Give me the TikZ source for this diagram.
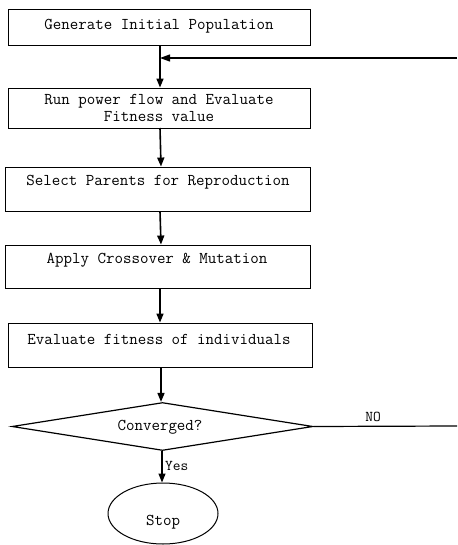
\documentclass[tikz,border=0pt]{standalone}
\usepackage{fontspec}
\usetikzlibrary{shapes.geometric,arrows.meta}
\begin{document}
\begin{tikzpicture}[x=1pt,y=-1pt,
  box/.style={draw,line width=0.9pt,rectangle,inner sep=0pt},
  txt/.style={font=\ttfamily\fontsize{16.5pt}{17pt}\selectfont,inner sep=0pt,align=center},
  small/.style={font=\ttfamily\fontsize{15pt}{16pt}\selectfont},
  flow/.style={line width=1.6pt,-{Triangle[length=9pt,width=7pt]}},
  thin/.style={line width=1.2pt}]
\useasboundingbox (0,0) rectangle (457,545);
% boxes
\node[box,minimum width=302pt,minimum height=36pt] (b1) at (159,27) {};
\node[box,minimum width=302pt,minimum height=40pt] (b2) at (159,108) {};
\node[box,minimum width=305pt,minimum height=44pt] (b3) at (157.5,189) {};
\node[box,minimum width=305pt,minimum height=43pt] (b4) at (157.5,266.5) {};
\node[box,minimum width=304pt,minimum height=44pt] (b5) at (160,345) {};
\node[draw,line width=1.2pt,diamond,minimum width=301pt,minimum height=48pt,inner sep=0pt] (d) at (162.5,426.5) {};
\node[draw,line width=1pt,ellipse,minimum width=110pt,minimum height=61pt,inner sep=0pt] (e) at (163,513.5) {};
% texts
\node[txt] (t1) at (159,26) {Generate Initial Population};
\node[txt] (t2) at (159,108) {Run power flow and Evaluate\\Fitness value};
\node[txt] (t3) at (158,182) {Select Parents for Reproduction};
\node[txt] (t4) at (157,260) {Apply Crossover \& Mutation};
\node[txt] (t5) at (159,339) {Evaluate fitness of individuals};
\node[txt] (t6) at (160,427) {Converged?};
\node[txt] (t7) at (163,522) {Stop};
\node[txt,small] (no) at (373,417) {NO};
\node[txt,small,anchor=west] (yes) at (165,466) {Yes};
% connectors
\coordinate (fbr) at (457,58);
\coordinate (fbj) at (160,58);
\coordinate (nor) at (457,426);
\draw[flow] (b1.south -| fbj) -- (b2.north -| fbj);
\draw[thin,-{Triangle[length=10pt,width=7pt]}] (fbr) -- (fbj);
\draw[flow] (160,128) -- (b3.north -| 161,0);
\draw[flow] (b3.south -| 160,0) -- (b4.north -| 161,0);
\draw[flow] (b4.south -| 160,0) -- (b5.north -| 160,0);
\draw[flow] (b5.south -| 161,0) -- (d.north -| 161,0);
\draw[thin] (d.east) -- (nor);
\draw[flow,line width=1.2pt] (d.south -| 162,0) -- (e.north -| 162,0);
\end{tikzpicture}
\end{document}
